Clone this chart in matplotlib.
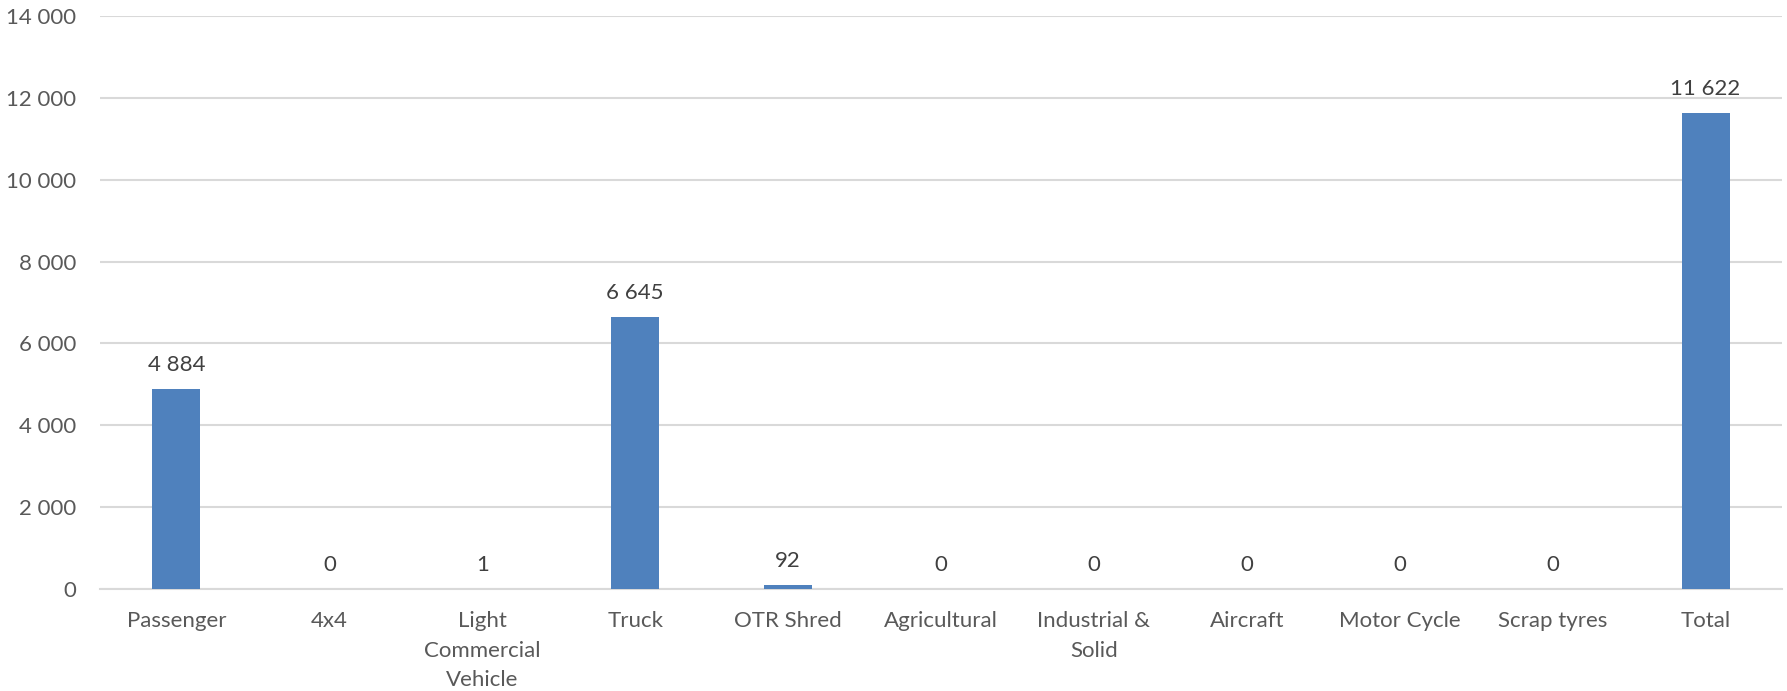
import numpy as np
import matplotlib.pyplot as plt
from matplotlib.ticker import FuncFormatter

plt.rcParams['font.family'] = ['Lato', 'DejaVu Sans']

categories = ['Passenger', '4x4', 'Light\nCommercial\nVehicle', 'Truck', 'OTR Shred',
              'Agricultural', 'Industrial &\nSolid', 'Aircraft', 'Motor Cycle',
              'Scrap tyres', 'Total']
values = [4884, 0, 1, 6645, 92, 0, 0, 0, 0, 0, 11622]
yticks = [0, 2000, 4000, 6000, 8000, 10000, 12000, 14000]

text_color = '#595959'
bar_color = '#4F81BD'
grid_color = '#D9D9D9'


def fmt(v, pos=None):
    return f"{v:,.0f}".replace(',', ' ')


fig = plt.figure(figsize=(17.87, 6.91), dpi=100)
ax = fig.add_axes([100 / 1787, 1 - 589 / 691, 1682 / 1787, 573 / 691])

x = np.arange(len(categories))
bars = ax.bar(x, values, width=0.314, color=bar_color, zorder=3)

for xi, v in zip(x, values):
    ax.annotate(fmt(v), (xi, v), xytext=(0, 10), textcoords='offset points',
                ha='center', va='bottom', fontsize=16, color='#404040')

ax.set_xlim(-0.5, len(categories) - 0.5)
ax.set_ylim(0, 14000)
ax.set_yticks(yticks)
ax.yaxis.set_major_formatter(FuncFormatter(fmt))
ax.set_xticks(x)
ax.set_xticklabels(categories, linespacing=1.6)

ax.tick_params(axis='y', length=0, pad=17, labelsize=16, labelcolor=text_color)
ax.tick_params(axis='x', length=0, pad=16, labelsize=16, labelcolor=text_color)
ax.grid(axis='y', color=grid_color, linewidth=1.5, zorder=0)
for side in ['top', 'right', 'left']:
    ax.spines[side].set_visible(False)
ax.spines['bottom'].set_color(grid_color)
ax.spines['bottom'].set_linewidth(1.5)

fig.savefig('out.png', dpi=100)
